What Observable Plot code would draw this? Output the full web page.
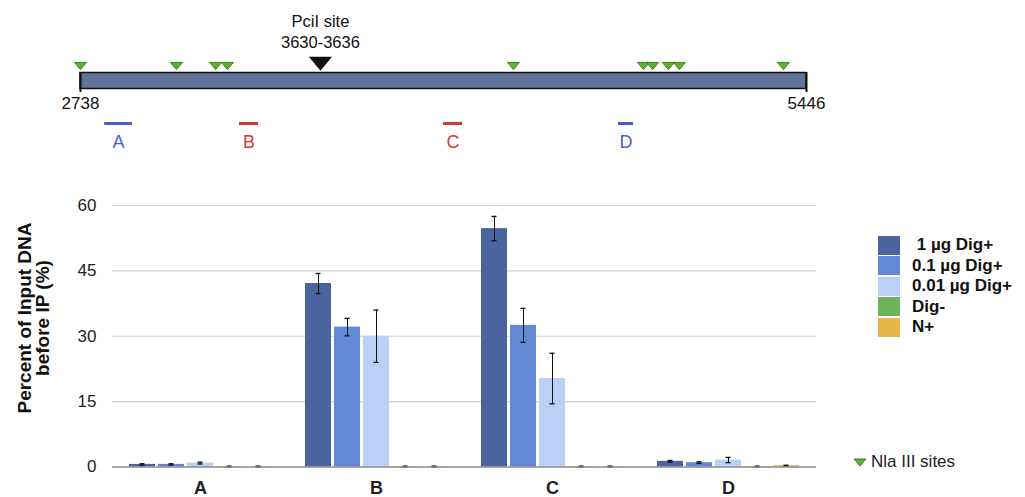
<!DOCTYPE html>
<html>
<head>
<meta charset="utf-8">
<script src="https://cdn.jsdelivr.net/npm/d3@7"></script>
<script src="https://cdn.jsdelivr.net/npm/@observablehq/plot@0.6"></script>
<style>
  body { margin: 0; background: #fff; font-family: "Liberation Sans", Arial, Helvetica, sans-serif; }
  #wrap { position: relative; width: 1025px; height: 497px; overflow: hidden; background: #fff; }
  #top { position: absolute; left: 0; top: 0; }
  #bars { position: absolute; left: 0; top: 180px; }
  #ylabel { position: absolute; width: 260px; left: -96px; top: 300px; text-align: center;
            font-weight: bold; font-size: 19px; line-height: 18px; color: #111;
            transform: rotate(-90deg); transform-origin: 130px 18px; }
  #legend { position: absolute; left: 878px; top: 235px; }
  .lrow { display: flex; align-items: center; height: 20.5px; }
  .lsw { width: 22px; height: 19px; margin-right: 12px; }
  .ltx { font-weight: bold; font-size: 17px; color: #111; white-space: pre; }
  #nla { position: absolute; left: 853px; top: 452px; display: flex; align-items: center; font-size: 17px; color: #222; }
  #nla svg { margin-right: 4px; }
</style>
</head>
<body>
<div id="wrap">
  <div id="top"></div>
  <div id="bars"></div>
  <div id="ylabel">Percent of Input DNA<br>before IP (%)</div>
  <div id="legend"></div>
  <div id="nla"><svg width="14" height="10"><path d="M1,2 L13,2 L7,9 Z" fill="#5DB32F" stroke="#3F7F20" stroke-width="1"/></svg><span>Nla III sites</span></div>
</div>
<script>
// ---------- Data ----------
const regions = ["A", "B", "C", "D"];
const series = ["1 µg Dig+", "0.1 µg Dig+", "0.01 µg Dig+", "Dig-", "N+"];
const seriesColors = ["#4A64A0", "#6389D6", "#B9D1F7", "#6CB35C", "#E8B54A"];

const val_1ug   = [0.6, 42.1, 54.7, 1.3];
const err_1ug   = [0.15, 2.3, 2.8, 0.2];
const val_01ug  = [0.6, 32.1, 32.5, 1.0];
const err_01ug  = [0.15, 2.0, 3.9, 0.2];
const val_001ug = [0.9, 30.0, 20.3, 1.6];
const err_001ug = [0.2, 6.0, 5.8, 0.6];
const val_digm  = [0.1, 0.1, 0.1, 0.1];
const err_digm  = [0.1, 0.1, 0.1, 0.1];
const val_np    = [0.1, 0.1, 0.1, 0.3];
const err_np    = [0.1, 0.1, 0.1, 0.1];

const yTicks = [0, 15, 30, 45, 60];

// plasmid map
const plasmidStart = 2738;
const plasmidEnd = 5446;
const nlaSites = [2738, 3096, 3242, 3286, 4353, 4838, 4872, 4931, 4972, 5360];
const pciSite = [3630, 3636];
const ampliconNames = ["A", "B", "C", "D"];
const ampliconStart = [2828, 3331, 4092, 4745];
const ampliconEnd   = [2932, 3402, 4163, 4801];
const ampliconColors = ["#4B5BD6", "#D23A3A", "#D23A3A", "#4B5BD6"];

// ---------- Build tables ----------
const vals = [val_1ug, val_01ug, val_001ug, val_digm, val_np];
const errs = [err_1ug, err_01ug, err_001ug, err_digm, err_np];
const rows = [];
regions.forEach((r, i) => series.forEach((s, j) => {
  rows.push({ region: r, series: s, value: vals[j][i], err: errs[j][i] });
}));
const amplicons = ampliconNames.map((n, i) => ({ name: n, start: ampliconStart[i], end: ampliconEnd[i], color: ampliconColors[i] }));

// downward flat triangle symbol
const downTri = {
  draw(ctx, size) {
    const w = Math.sqrt(size);
    ctx.moveTo(-w / 2, -w * 0.3);
    ctx.lineTo(w / 2, -w * 0.3);
    ctx.lineTo(0, w * 0.3);
    ctx.closePath();
  }
};

const FONT = '"Liberation Sans", Arial, Helvetica, sans-serif';

// ---------- Top map ----------
const topPlot = Plot.plot({
  width: 1025, height: 160,
  marginLeft: 80, marginRight: 219, marginTop: 0, marginBottom: 0,
  style: { fontFamily: FONT, background: "transparent", overflow: "visible" },
  x: { domain: [plasmidStart, plasmidEnd], axis: null },
  y: { type: "identity", axis: null },
  marks: [
    Plot.rect([{ s: plasmidStart, e: plasmidEnd }], { x1: "s", x2: "e", y1: () => 72.5, y2: () => 88.5, fill: "#60749A", stroke: "#111", strokeWidth: 1.5 }),
    Plot.ruleX([plasmidStart, plasmidEnd], { x: d => d, y1: () => 72, y2: () => 92, stroke: "#111", strokeWidth: 2 }),
    Plot.text([plasmidStart, plasmidEnd], { x: d => d, y: () => 103, text: d => String(d), fontSize: 17, fill: "#111" }),
    Plot.dot(nlaSites, { x: d => d, y: () => 65.5, symbol: downTri, r: Math.sqrt(144 / Math.PI), fill: "#5DB32F", stroke: "#3F7F20", strokeWidth: 1 }),
    Plot.dot([pciSite], { x: d => (d[0] + d[1]) / 2, y: () => 63, symbol: downTri, r: Math.sqrt(400 / Math.PI), fill: "#111", stroke: "#111" }),
    Plot.text([pciSite], { x: d => (d[0] + d[1]) / 2, y: () => 21, text: () => "PciI site", fontSize: 16.5, fill: "#111" }),
    Plot.text([pciSite], { x: d => (d[0] + d[1]) / 2, y: () => 42.5, text: d => `${d[0]}-${d[1]}`, fontSize: 16.5, fill: "#111" }),
    Plot.ruleY(amplicons, { x1: "start", x2: "end", y: () => 123, stroke: "color", strokeWidth: 3 }),
    Plot.text(amplicons, { x: d => (d.start + d.end) / 2, y: () => 142, text: "name", fill: "color", fontSize: 18 })
  ]
});
document.getElementById("top").appendChild(topPlot);

// ---------- Bar chart ----------
const barPlot = Plot.plot({
  width: 1025, height: 317,
  marginLeft: 111, marginRight: 208, marginTop: 25, marginBottom: 30.5,
  style: { fontFamily: FONT, background: "transparent", overflow: "visible", color: "#222" },
  fx: { domain: regions, padding: 0, label: null, axis: null },
  x: { domain: series, paddingInner: 0.1, paddingOuter: 0.49, axis: null },
  y: { domain: [0, 60], label: null, axis: null },
  color: { domain: series, range: seriesColors },
  marks: [
    Plot.ruleY(yTicks.filter(t => t > 0), { stroke: "#cfcfcf", strokeWidth: 1.2 }),
    Plot.barY(rows, { fx: "region", x: "series", y: "value", fill: "series" }),
    Plot.ruleX(rows, { fx: "region", x: "series", y1: d => d.value - d.err, y2: d => d.value + d.err, stroke: "#111", strokeWidth: 1 }),
    Plot.tickY(rows, { fx: "region", x: "series", y: d => d.value + d.err, stroke: "#111", strokeWidth: 1.3, insetLeft: 10.5, insetRight: 10.5 }),
    Plot.tickY(rows, { fx: "region", x: "series", y: d => Math.max(0, d.value - d.err), stroke: "#111", strokeWidth: 1.3, insetLeft: 10.5, insetRight: 10.5 }),
    Plot.ruleY([0], { stroke: "#8a8a8a", strokeWidth: 1.5 }),
    Plot.axisY({ ticks: yTicks, tickSize: 0, tickPadding: 16, fontSize: 17, label: null, tickFormat: d => String(d) }),
    Plot.axisFx({ anchor: "bottom", tickSize: 0, tickPadding: 14, fontSize: 18, fontWeight: "bold", label: null })
  ]
});
document.getElementById("bars").appendChild(barPlot);

// ---------- Legend ----------
const leg = document.getElementById("legend");
series.forEach((s, i) => {
  const row = document.createElement("div");
  row.className = "lrow";
  const sw = document.createElement("div");
  sw.className = "lsw";
  sw.style.background = seriesColors[i];
  const tx = document.createElement("div");
  tx.className = "ltx";
  tx.textContent = i === 0 ? " " + s : s;
  row.appendChild(sw); row.appendChild(tx);
  leg.appendChild(row);
});
</script>
</body>
</html>
